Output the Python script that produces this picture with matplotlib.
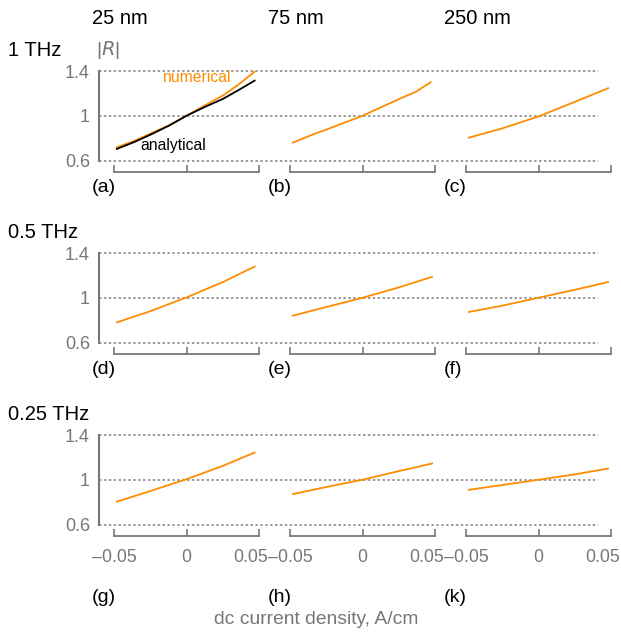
import matplotlib
matplotlib.use("Agg")
import matplotlib.pyplot as plt
import matplotlib.transforms as mtransforms
import numpy as np

plt.rcParams['font.family'] = ['Liberation Sans', 'DejaVu Sans']

# ---- data ----
col_titles = ["25 nm", "75 nm", "250 nm"]
row_titles = ["1 THz", "0.5 THz", "0.25 THz"]
panel_labels = [["(a)", "(b)", "(c)"], ["(d)", "(e)", "(f)"], ["(g)", "(h)", "(k)"]]
x_ticks = [-0.05, 0, 0.05]
x_ticklabels = ["\u20130.05", "0", "0.05"]
y_ticks = [0.6, 1.0, 1.4]
y_ticklabels = ["0.6", "1", "1.4"]

x_a = [-0.048, -0.036, -0.025, -0.012, 0.0, 0.012, 0.025, 0.036, 0.047]
num_a = [0.718, 0.776, 0.84, 0.915, 1.0, 1.088, 1.18, 1.28, 1.394]
ana_a = [0.704, 0.765, 0.83, 0.912, 1.0, 1.075, 1.15, 1.23, 1.314]

x_b = [-0.048, -0.034, -0.025, 0.0, 0.025, 0.037, 0.047]
num_b = [0.76, 0.834, 0.876, 1.0, 1.148, 1.216, 1.30]

x_c = [-0.048, -0.025, 0.0, 0.025, 0.048]
num_c = [0.804, 0.887, 0.994, 1.124, 1.246]

x_d = [-0.048, -0.025, 0.0, 0.025, 0.047]
num_d = [0.78, 0.88, 1.003, 1.14, 1.279]

x_e = [-0.048, -0.025, 0.0, 0.025, 0.048]
num_e = [0.84, 0.917, 1.0, 1.092, 1.187]

x_f = [-0.048, -0.025, 0.0, 0.025, 0.048]
num_f = [0.873, 0.929, 1.0, 1.071, 1.14]

x_g = [-0.048, -0.025, 0.0, 0.025, 0.047]
num_g = [0.804, 0.899, 1.005, 1.124, 1.243]

x_h = [-0.048, -0.025, 0.0, 0.025, 0.048]
num_h = [0.872, 0.935, 1.0, 1.077, 1.145]

x_k = [-0.048, -0.025, 0.0, 0.025, 0.048]
num_k = [0.91, 0.953, 1.0, 1.048, 1.10]

curves = [[(x_a, num_a), (x_b, num_b), (x_c, num_c)],
          [(x_d, num_d), (x_e, num_e), (x_f, num_f)],
          [(x_g, num_g), (x_h, num_h), (x_k, num_k)]]

# ---- style ----
W, H = 621, 634
ORANGE = "#FF8C00"
GRAY = "#777777"
DOT = "#808080"

fig = plt.figure(figsize=(W / 100, H / 100), dpi=100)

def fx(px):
    return px / W

def fy(py):
    return 1 - py / H

row_top = [71, 253, 435]
row_h = 89.5
col_left = [114, 290, 466]
col_w = 145

for r in range(3):
    top = row_top[r]
    bottom = top + row_h
    # frame axes with y-axis and dotted gridlines
    fr = fig.add_axes([fx(99), fy(bottom), fx(598) - fx(99), row_h / H])
    fr.set_ylim(0.6, 1.4)
    fr.set_xlim(0, 1)
    fr.patch.set_visible(False)
    for s in ["top", "right", "bottom"]:
        fr.spines[s].set_visible(False)
    fr.spines["left"].set_color(GRAY)
    fr.spines["left"].set_linewidth(1.5)
    fr.set_xticks([])
    fr.set_yticks(y_ticks)
    fr.set_yticklabels(y_ticklabels)
    fr.tick_params(axis="y", length=0, pad=6.5, labelsize=13, labelcolor=GRAY)
    for yv in y_ticks:
        fr.axhline(yv, color=DOT, lw=1.1, ls=(0, (1.6, 1.6)), clip_on=False, zorder=1)

    for c in range(3):
        ax = fig.add_axes([fx(col_left[c]), fy(bottom), col_w / W, row_h / H])
        ax.set_xlim(-0.05, 0.05)
        ax.set_ylim(0.6, 1.4)
        ax.patch.set_visible(False)
        for s in ["top", "right", "left"]:
            ax.spines[s].set_visible(False)
        ax.spines["bottom"].set_position(("outward", 8.6))
        ax.spines["bottom"].set_color(GRAY)
        ax.spines["bottom"].set_linewidth(1.3)
        ax.set_yticks([])
        ax.set_xticks(x_ticks)
        if r == 2:
            ax.set_xticklabels(x_ticklabels)
        else:
            ax.set_xticklabels([])
        ax.tick_params(axis="x", direction="in", length=5, width=1.2, color=GRAY,
                       labelsize=12.8, labelcolor=GRAY, pad=9)
        if r == 2:
            lab = ax.get_xticklabels()[2]
            off = mtransforms.ScaledTranslation(-8 / 100, 0, fig.dpi_scale_trans)
            lab.set_transform(lab.get_transform() + off)
        xs, ys = curves[r][c]
        ax.plot(xs, ys, color=ORANGE, lw=1.3, zorder=3)
        if r == 0 and c == 0:
            ax.plot(x_a, ana_a, color="black", lw=1.3, zorder=4)
            ax.text(0.0076, 1.344, "numerical", color=ORANGE, fontsize=11.3, ha="center", va="center")
            ax.text(-0.0093, 0.733, "analytical", color="black", fontsize=11.3, ha="center", va="center")
        # panel label
        ly = 188 + r * 182 if r < 2 else 597
        fig.text(fx(col_left[c] - 22), fy(ly), panel_labels[r][c], fontsize=14,
                 ha="left", va="center", color="black")

# column titles
for c in range(3):
    fig.text(fx(col_left[c] - 22), fy(18), col_titles[c], fontsize=14.5,
             ha="left", va="center", color="black")

# row titles
for r in range(3):
    fig.text(fx(8), fy(50 + r * 182.5), row_titles[r], fontsize=14.5,
             ha="left", va="center", color="black")

fig.text(fx(96), fy(50), "|$\\mathit{R}$|", fontsize=14, ha="left", va="center", color=GRAY)

fig.text(fx(316), fy(620), "dc current density, A/cm", fontsize=13.9,
         ha="center", va="center", color=GRAY)

fig.savefig("out.png", dpi=100)
